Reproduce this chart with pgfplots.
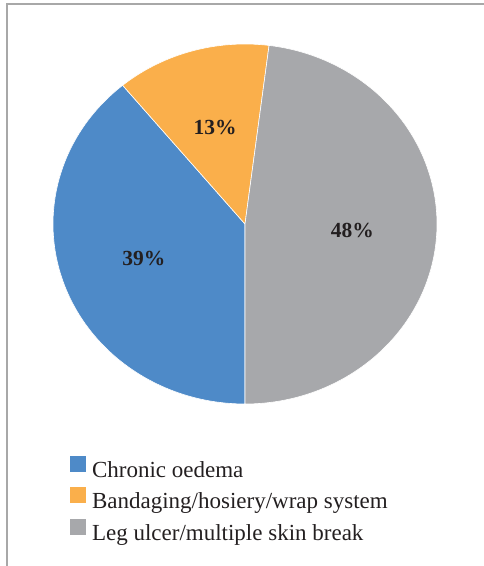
\documentclass[border=0pt]{standalone}
\usepackage{pgfplots}
\pgfplotsset{compat=1.18}
\usepackage{pgfplotstable}
\usepackage{fontspec}
\setmainfont{Liberation Serif}

\definecolor{pieBlue}{HTML}{4E8AC8}
\definecolor{pieOrange}{HTML}{FAAF4B}
\definecolor{pieGray}{HTML}{A7A8AB}
\definecolor{txt}{HTML}{231F20}
\definecolor{frameGray}{HTML}{A8A8A8}

% shares of the three groups, in per cent
\pgfplotstableread{
share
39
13
48
}\sharetable

\begin{document}
\begin{tikzpicture}
  \pgfplotstablegetelem{0}{share}\of\sharetable \let\sA\pgfplotsretval
  \pgfplotstablegetelem{1}{share}\of\sharetable \let\sB\pgfplotsretval
  \pgfplotstablegetelem{2}{share}\of\sharetable \let\sC\pgfplotsretval
  % slice boundaries, clockwise from the bottom of the pie
  \pgfmathsetmacro\aA{270}
  \pgfmathsetmacro\aB{\aA-3.6*\sA}
  \pgfmathsetmacro\aC{\aB-3.6*\sB}
  \pgfmathsetmacro\aD{\aC-3.6*\sC}
  \pgfmathsetmacro\mA{(\aA+\aB)/2}
  \pgfmathsetmacro\mB{(\aB+\aC)/2}
  \pgfmathsetmacro\mC{(\aC+\aD)/2}
  \draw[frameGray, line width=1.4pt] (7pt,0pt) -- (7pt,562pt) -- (484pt,562pt);
  \begin{axis}[
    at={(53pt,162pt)}, anchor=south west,
    scale only axis, width=384pt, height=360pt,
    xmin=-1, xmax=1, ymin=-1, ymax=1,
    hide axis, clip=false,
    legend cell align=left,
    legend style={
      at={(0.0443,-0.1444)}, anchor=north west,
      draw=none, fill=none, inner sep=0pt, outer sep=0pt,
      font=\fontsize{23}{27}\selectfont, text=txt,
      nodes={inner sep=0pt, text height=17pt, text depth=6pt},
      row sep=4pt, column sep=6pt,
    },
    legend image code/.code={\path[#1, draw=none] (0pt,0pt) rectangle (16pt,16pt);},
  ]
    \addplot[fill=pieBlue, draw=white, line width=0.6pt, domain=\aB:\aA, samples=120, variable=\t]
      ({cos(\t)}, {sin(\t)}) -- (0,0) -- cycle;
    \addlegendentry{Chronic oedema}
    \addplot[fill=pieOrange, draw=white, line width=0.6pt, domain=\aC:\aB, samples=60, variable=\t]
      ({cos(\t)}, {sin(\t)}) -- (0,0) -- cycle;
    \addlegendentry{Bandaging/hosiery/wrap system}
    \addplot[fill=pieGray, draw=white, line width=0.6pt, domain=\aD:\aC, samples=140, variable=\t]
      ({cos(\t)}, {sin(\t)}) -- (0,0) -- cycle;
    \addlegendentry{Leg ulcer/multiple skin break}

    \begin{scope}[every node/.style={font=\fontsize{21.5}{24}\selectfont\bfseries, text=txt}]
      \node at ({0.56*cos(\mA)}, {0.56*sin(\mA)}) {\sA\%};
      \node at ({0.56*cos(\mB)}, {0.56*sin(\mB)}) {\sB\%};
      \node at ({0.56*cos(\mC)}, {0.56*sin(\mC)}) {\sC\%};
    \end{scope}
  \end{axis}
  \pgfresetboundingbox
  \path[use as bounding box] (0pt,0pt) rectangle (484pt,566pt);
\end{tikzpicture}
\end{document}
